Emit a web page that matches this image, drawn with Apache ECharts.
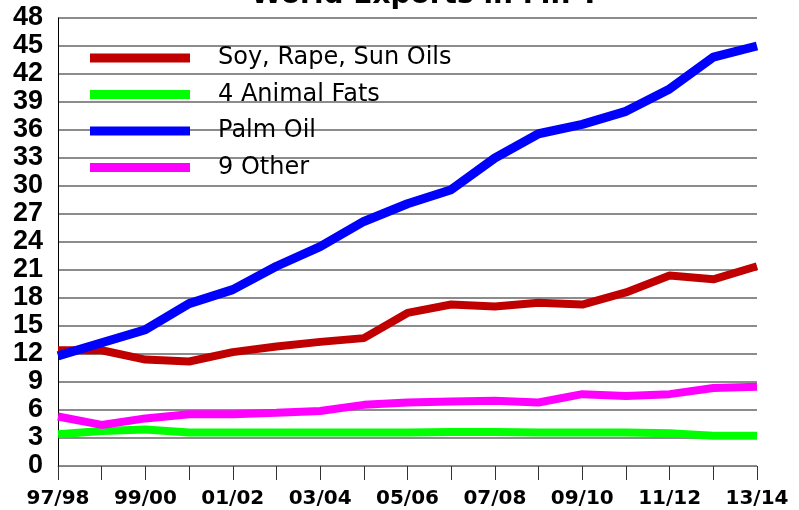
<!DOCTYPE html>
<html>
<head>
<meta charset="utf-8">
<title>World Exports in Mn T</title>
<script src="https://cdn.jsdelivr.net/npm/echarts@6/dist/echarts.min.js"></script>
<style>
  html, body { margin: 0; padding: 0; background: #fff; }
  #Exports { width: 799px; height: 510px; }
</style>
</head>
<body>
<div id="Exports"></div>
<script>
  // marketing years
  var years = ['97/98', '98/99', '99/00', '00/01', '01/02', '02/03', '03/04', '04/05', '05/06',
    '06/07', '07/08', '08/09', '09/10', '10/11', '11/12', '12/13', '13/14']
  // exports, million tonnes
  var soyRapeSun = [12.4, 12.4, 11.4, 11.2, 12.2, 12.8, 13.3, 13.7, 16.4, 17.3, 17.1, 17.5, 17.3, 18.6, 20.4, 20.0, 21.4]
  var animalFats = [3.4, 3.75, 3.9, 3.6, 3.6, 3.6, 3.6, 3.6, 3.6, 3.65, 3.65, 3.6, 3.6, 3.6, 3.5, 3.25, 3.25]
  var palmOil = [11.8, 13.2, 14.6, 17.4, 18.9, 21.4, 23.5, 26.2, 28.1, 29.6, 33.0, 35.6, 36.6, 38.0, 40.4, 43.8, 45.0]
  var other = [5.3, 4.4, 5.1, 5.55, 5.55, 5.7, 5.9, 6.55, 6.8, 6.9, 7.0, 6.8, 7.7, 7.5, 7.7, 8.35, 8.5]
  var names = ['Soy, Rape, Sun Oils', '4 Animal Fats', 'Palm Oil', '9 Other']

  var colors = ['#C00000', '#00FF00', '#0000FF', '#FF00FF']

  function lineSeries(name, data, color, width) {
    return {
      name: name,
      type: 'line',
      data: data,
      symbol: 'none',
      color: color,
      itemStyle: { color: color },
      lineStyle: { color: color, width: width },
      emphasis: { disabled: true }
    }
  }

  var chart = echarts.init(document.getElementById('Exports'))
  chart.setOption({
    animation: false,
    backgroundColor: '#fff',
    title: {
      text: 'World Exports in Mn T',
      left: 246,
      top: -23,
      textStyle: {
        fontFamily: 'DejaVu Sans',
        fontWeight: 'bold',
        fontSize: 28,
        color: '#000'
      }
    },
    grid: {
      left: 58,
      right: 42,
      top: 18,
      bottom: 44
    },
    legend: {
      orient: 'vertical',
      left: 85,
      top: 41,
      itemWidth: 100,
      itemHeight: 9,
      itemGap: 12.5,
      icon: 'rect',
      selectedMode: false,
      data: names,
      textStyle: {
        fontFamily: 'DejaVu Sans',
        fontSize: 24,
        lineHeight: 24,
        color: '#000',
        padding: [0, 0, 0, 23]
      }
    },
    xAxis: {
      type: 'category',
      data: years,
      boundaryGap: false,
      axisLine: { lineStyle: { color: '#808080', width: 1 } },
      axisTick: { length: 14, interval: 0, lineStyle: { color: '#333' } },
      axisLabel: {
        interval: 1,
        margin: 23,
        color: '#000',
        fontFamily: 'DejaVu Sans',
        fontWeight: 'bold',
        fontSize: 20
      },
      splitLine: { show: false }
    },
    yAxis: {
      type: 'value',
      min: 0,
      max: 48,
      interval: 3,
      axisLine: { show: true, lineStyle: { color: '#000', width: 1 } },
      axisTick: { show: false },
      axisLabel: {
        margin: 15,
        color: '#000',
        fontFamily: 'Liberation Sans',
        fontWeight: 'bold',
        fontSize: 27
      },
      splitLine: { lineStyle: { color: '#666', width: 1.5 } }
    },
    series: [
      lineSeries(names[0], soyRapeSun, colors[0], 8),
      lineSeries(names[1], animalFats, colors[1], 8),
      lineSeries(names[2], palmOil, colors[2], 9),
      lineSeries(names[3], other, colors[3], 8)
    ]
  })
</script>
</body>
</html>
